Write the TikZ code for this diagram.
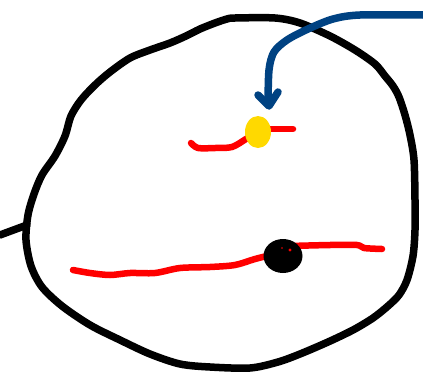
\documentclass[tikz,border=0pt]{standalone}
\usetikzlibrary{shapes.geometric}
\begin{document}
\begin{tikzpicture}[x=1pt,y=-1pt,line cap=round,line join=round,
  outline/.style={draw=black,line width=7.5pt},
  redline/.style={draw=red,line width=6.5pt},
  blueline/.style={draw={rgb,255:red,0;green,66;blue,130},line width=7.5pt}]
\useasboundingbox (0,0) rectangle (423,375);
% outer blob
\draw[outline] plot[smooth cycle,tension=0.5] coordinates {
 (235,18) (275,18) (300,23) (330,36) (355,50) (375,64) (385,76) (393,86) (399,97)
 (405,115) (410,135) (414,160) (415,200) (415,230) (413,256) (407,280) (399,295)
 (388,306) (373,318) (353,330) (328,342) (300,354) (278,362) (250,368) (210,367)
 (180,364) (150,354) (120,340) (90,325) (62,306) (42,287) (31,266) (26,240) (28,215)
 (34,194) (42,175) (55,156) (65,136) (71,116) (81,100) (95,85) (110,72) (130,58)
 (150,50) (170,43) (186,36) (200,29) (215,23) (227,19)};
\coordinate (stubA) at (0,235);
\coordinate (stubB) at (27,225);
\draw[outline] (stubA) -- (stubB);
% upper red line and yellow blob
\draw[redline] plot[smooth,tension=0.5] coordinates {(191,143) (198,148) (215,148) (232,147) (246,139) (256,133)};
\draw[redline] (262,129) -- (293,129);
\node[ellipse,fill={rgb,255:red,255;green,217;blue,0},minimum width=26pt,minimum height=32pt,inner sep=0pt] (yellow) at (258,132) {};
% lower red line and black blob
\draw[redline] plot[smooth,tension=0.5] coordinates {(73,270) (90,273) (110,275) (130,273) (155,273) (180,268) (210,267) (235,265) (255,259) (275,254)};
\draw[redline] plot[smooth,tension=0.5] coordinates {(290,246) (330,245) (357,245) (364,248) (382,249)};
\node[ellipse,fill=black,minimum width=39pt,minimum height=34pt,inner sep=0pt] (dark) at (283,256) {};
\fill[red] (290,250) circle (1.6pt);
\fill[red] (282,248) circle (0.8pt);
% blue arrow
\coordinate (bstart) at (423,15);
\draw[blueline] plot[smooth,tension=0.5] coordinates {(423,15) (360,15) (333,19) (308,29) (287,40) (274,52) (269,70) (268,104)};
\draw[blueline] (258,95) -- (269,106) -- (278,92);
\end{tikzpicture}
\end{document}
